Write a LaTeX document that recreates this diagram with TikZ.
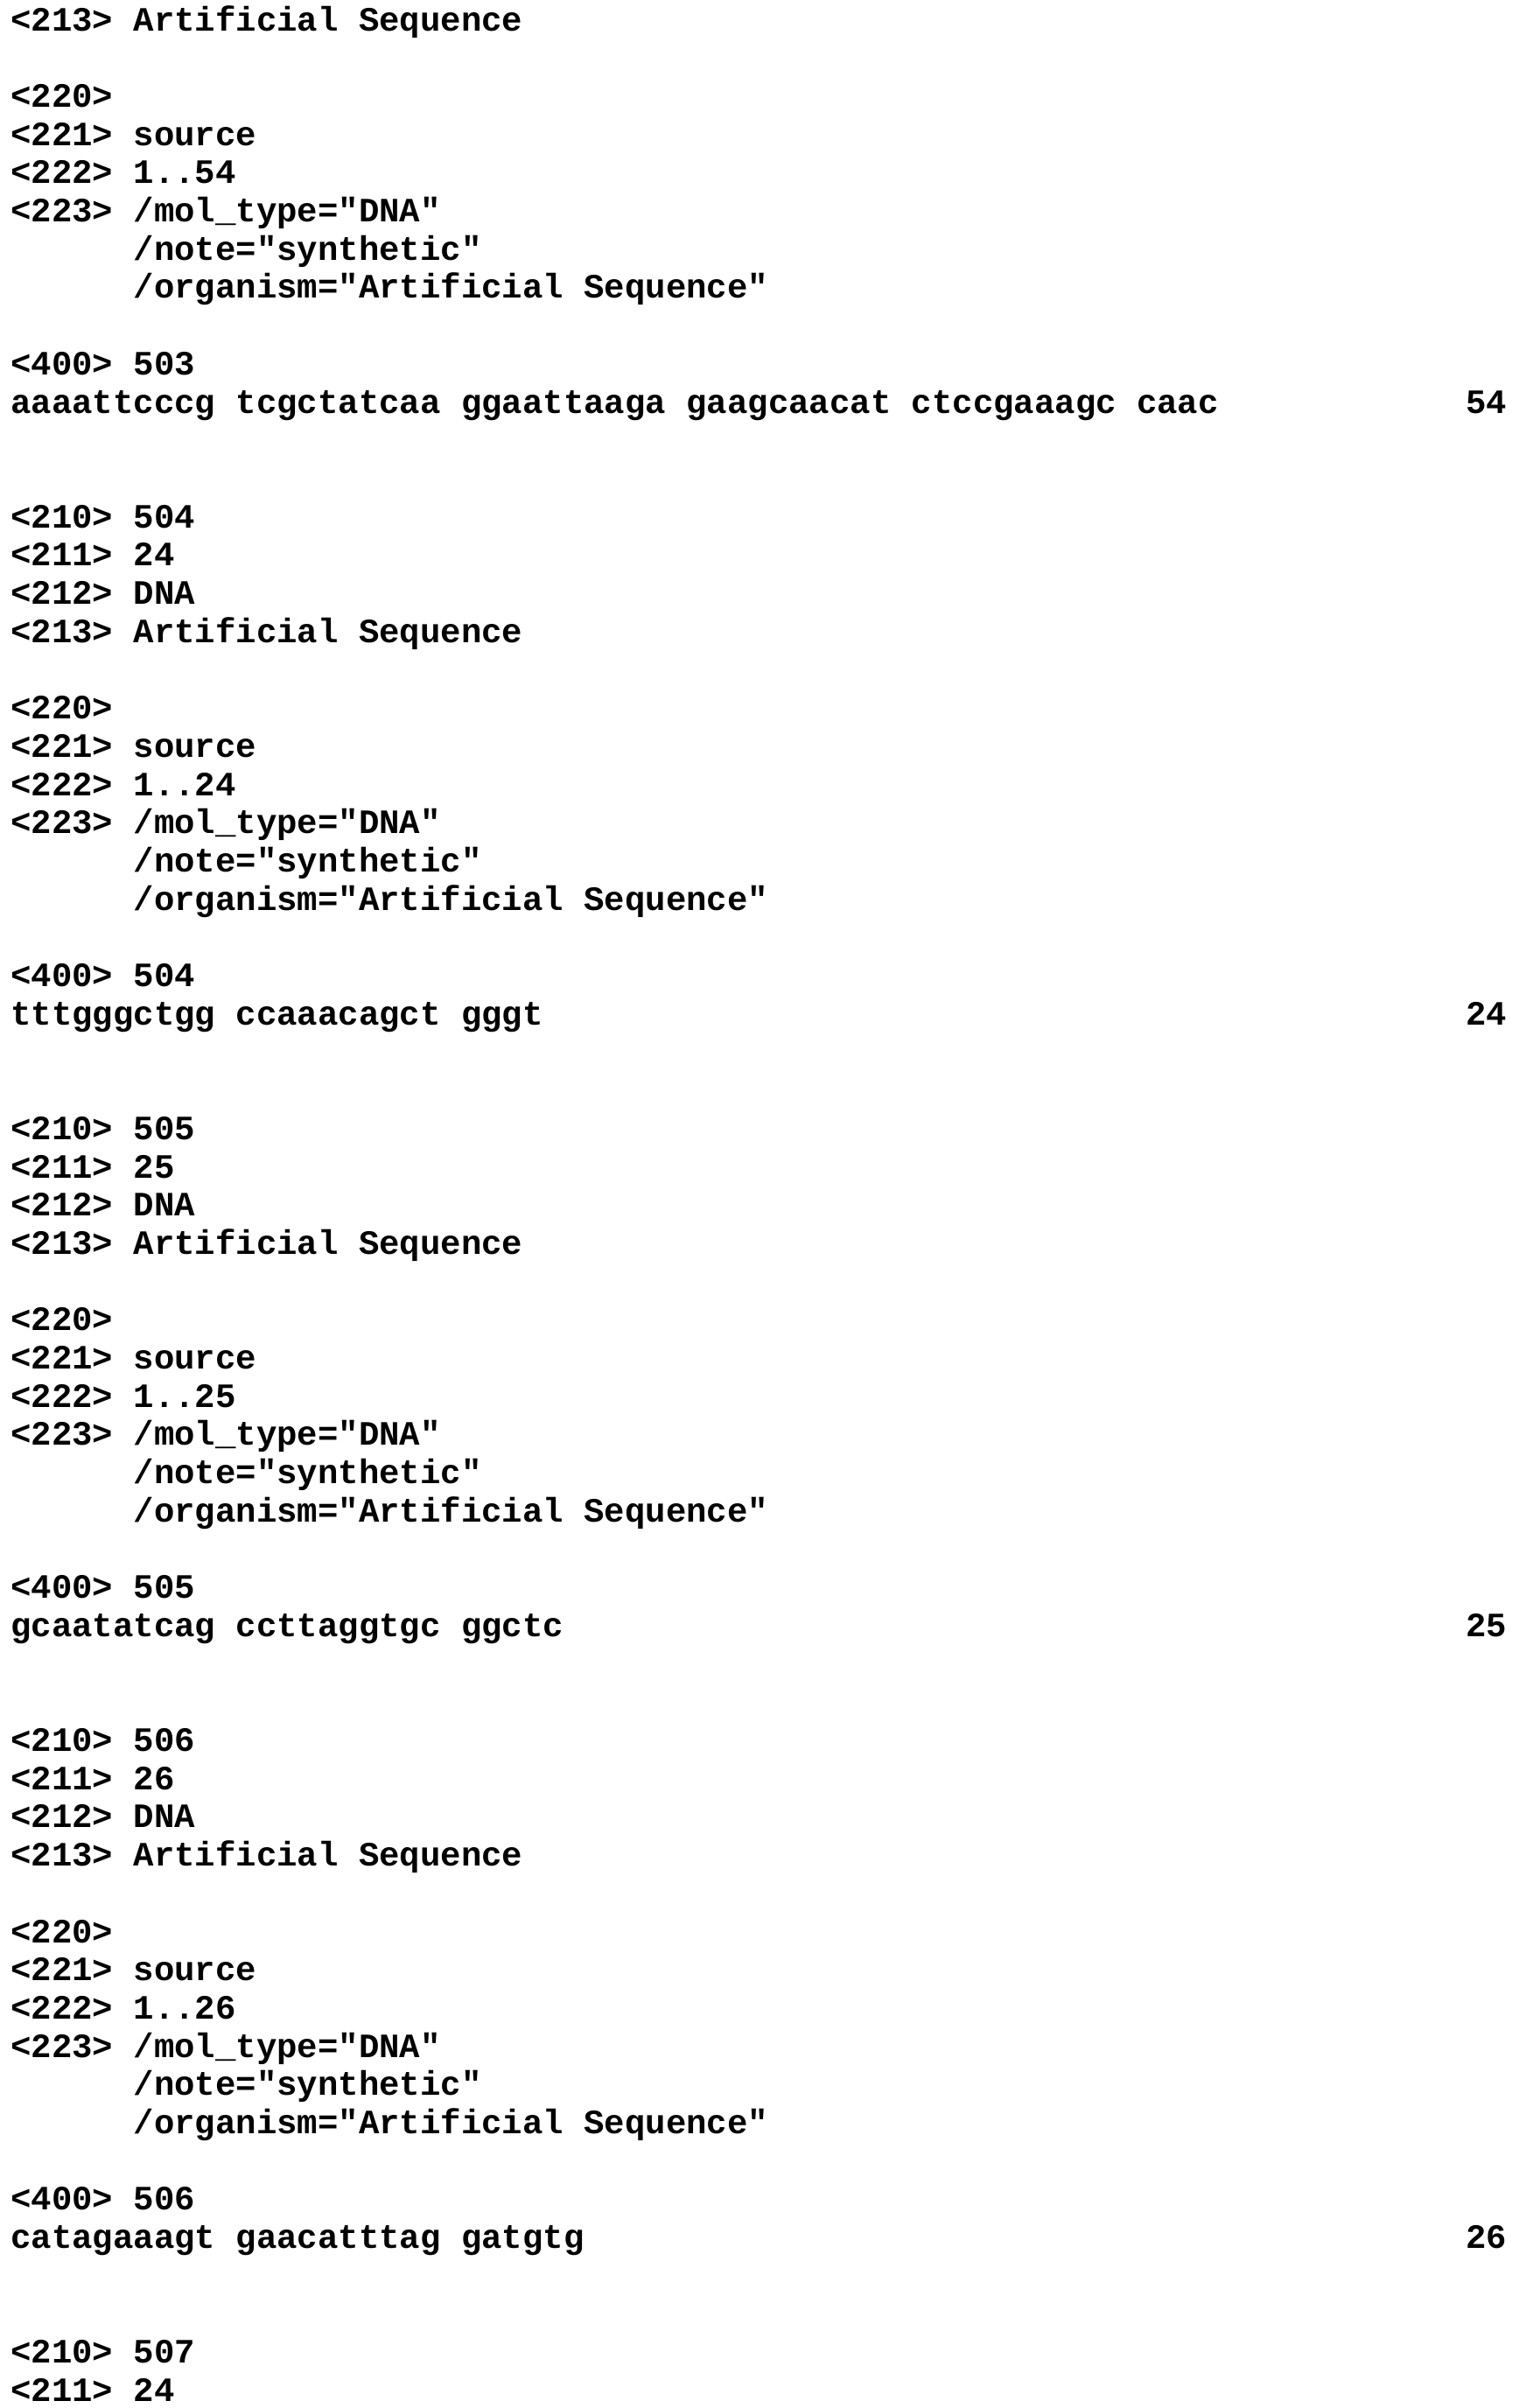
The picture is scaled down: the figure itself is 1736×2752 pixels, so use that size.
\documentclass[tikz,border=0pt]{standalone}
\usepackage{fontspec}
\newfontfamily\seqfont{Liberation Mono}[BoldFont={* Bold}]
\newcommand{\putline}[4]{\node[txt] (#1) at (#3,{-(35+43.7*#2)}) {#4};}
\newcommand{\putnum}[3]{\node[num] (#1) at (1722,{-(35+43.7*#2)}) {#3};}
\begin{document}
\begin{tikzpicture}[x=1pt,y=1pt,
  txt/.style={anchor=base west,inner sep=0pt,font=\seqfont\bfseries\fontsize{39}{44}\selectfont},
  num/.style={anchor=base east,inner sep=0pt,font=\seqfont\bfseries\fontsize{39}{44}\selectfont}]
\useasboundingbox[fill=white] (0,0) rectangle (1736,-2752);
\def\L{12}\def\I{152.4}
\putline{a0}{0}{\L}{<213> Artificial Sequence}
\putline{a2}{2}{\L}{<220>}
\putline{a3}{3}{\L}{<221> source}
\putline{a4}{4}{\L}{<222> 1..54}
\putline{a5}{5}{\L}{<223> /mol\_type="DNA"}
\putline{a6}{6}{\I}{/note="synthetic"}
\putline{a7}{7}{\I}{/organism="Artificial Sequence"}
\putline{a9}{9}{\L}{<400> 503}
\putline{a10}{10}{\L}{aaaattcccg tcgctatcaa ggaattaaga gaagcaacat ctccgaaagc caac}
\putnum{n503}{10}{54}
% 504
\putline{b0}{13}{\L}{<210> 504}
\putline{b1}{14}{\L}{<211> 24}
\putline{b2}{15}{\L}{<212> DNA}
\putline{b3}{16}{\L}{<213> Artificial Sequence}
\putline{b5}{18}{\L}{<220>}
\putline{b6}{19}{\L}{<221> source}
\putline{b7}{20}{\L}{<222> 1..24}
\putline{b8}{21}{\L}{<223> /mol\_type="DNA"}
\putline{b9}{22}{\I}{/note="synthetic"}
\putline{b10}{23}{\I}{/organism="Artificial Sequence"}
\putline{b12}{25}{\L}{<400> 504}
\putline{b13}{26}{\L}{tttgggctgg ccaaacagct gggt}
\putnum{n504}{26}{24}
% 505
\putline{c0}{29}{\L}{<210> 505}
\putline{c1}{30}{\L}{<211> 25}
\putline{c2}{31}{\L}{<212> DNA}
\putline{c3}{32}{\L}{<213> Artificial Sequence}
\putline{c5}{34}{\L}{<220>}
\putline{c6}{35}{\L}{<221> source}
\putline{c7}{36}{\L}{<222> 1..25}
\putline{c8}{37}{\L}{<223> /mol\_type="DNA"}
\putline{c9}{38}{\I}{/note="synthetic"}
\putline{c10}{39}{\I}{/organism="Artificial Sequence"}
\putline{c12}{41}{\L}{<400> 505}
\putline{c13}{42}{\L}{gcaatatcag ccttaggtgc ggctc}
\putnum{n505}{42}{25}
% 506
\putline{d0}{45}{\L}{<210> 506}
\putline{d1}{46}{\L}{<211> 26}
\putline{d2}{47}{\L}{<212> DNA}
\putline{d3}{48}{\L}{<213> Artificial Sequence}
\putline{d5}{50}{\L}{<220>}
\putline{d6}{51}{\L}{<221> source}
\putline{d7}{52}{\L}{<222> 1..26}
\putline{d8}{53}{\L}{<223> /mol\_type="DNA"}
\putline{d9}{54}{\I}{/note="synthetic"}
\putline{d10}{55}{\I}{/organism="Artificial Sequence"}
\putline{d12}{57}{\L}{<400> 506}
\putline{d13}{58}{\L}{catagaaagt gaacatttag gatgtg}
\putnum{n506}{58}{26}
% 507
\putline{e0}{61}{\L}{<210> 507}
\putline{e1}{62}{\L}{<211> 24}
\end{tikzpicture}
\end{document}
